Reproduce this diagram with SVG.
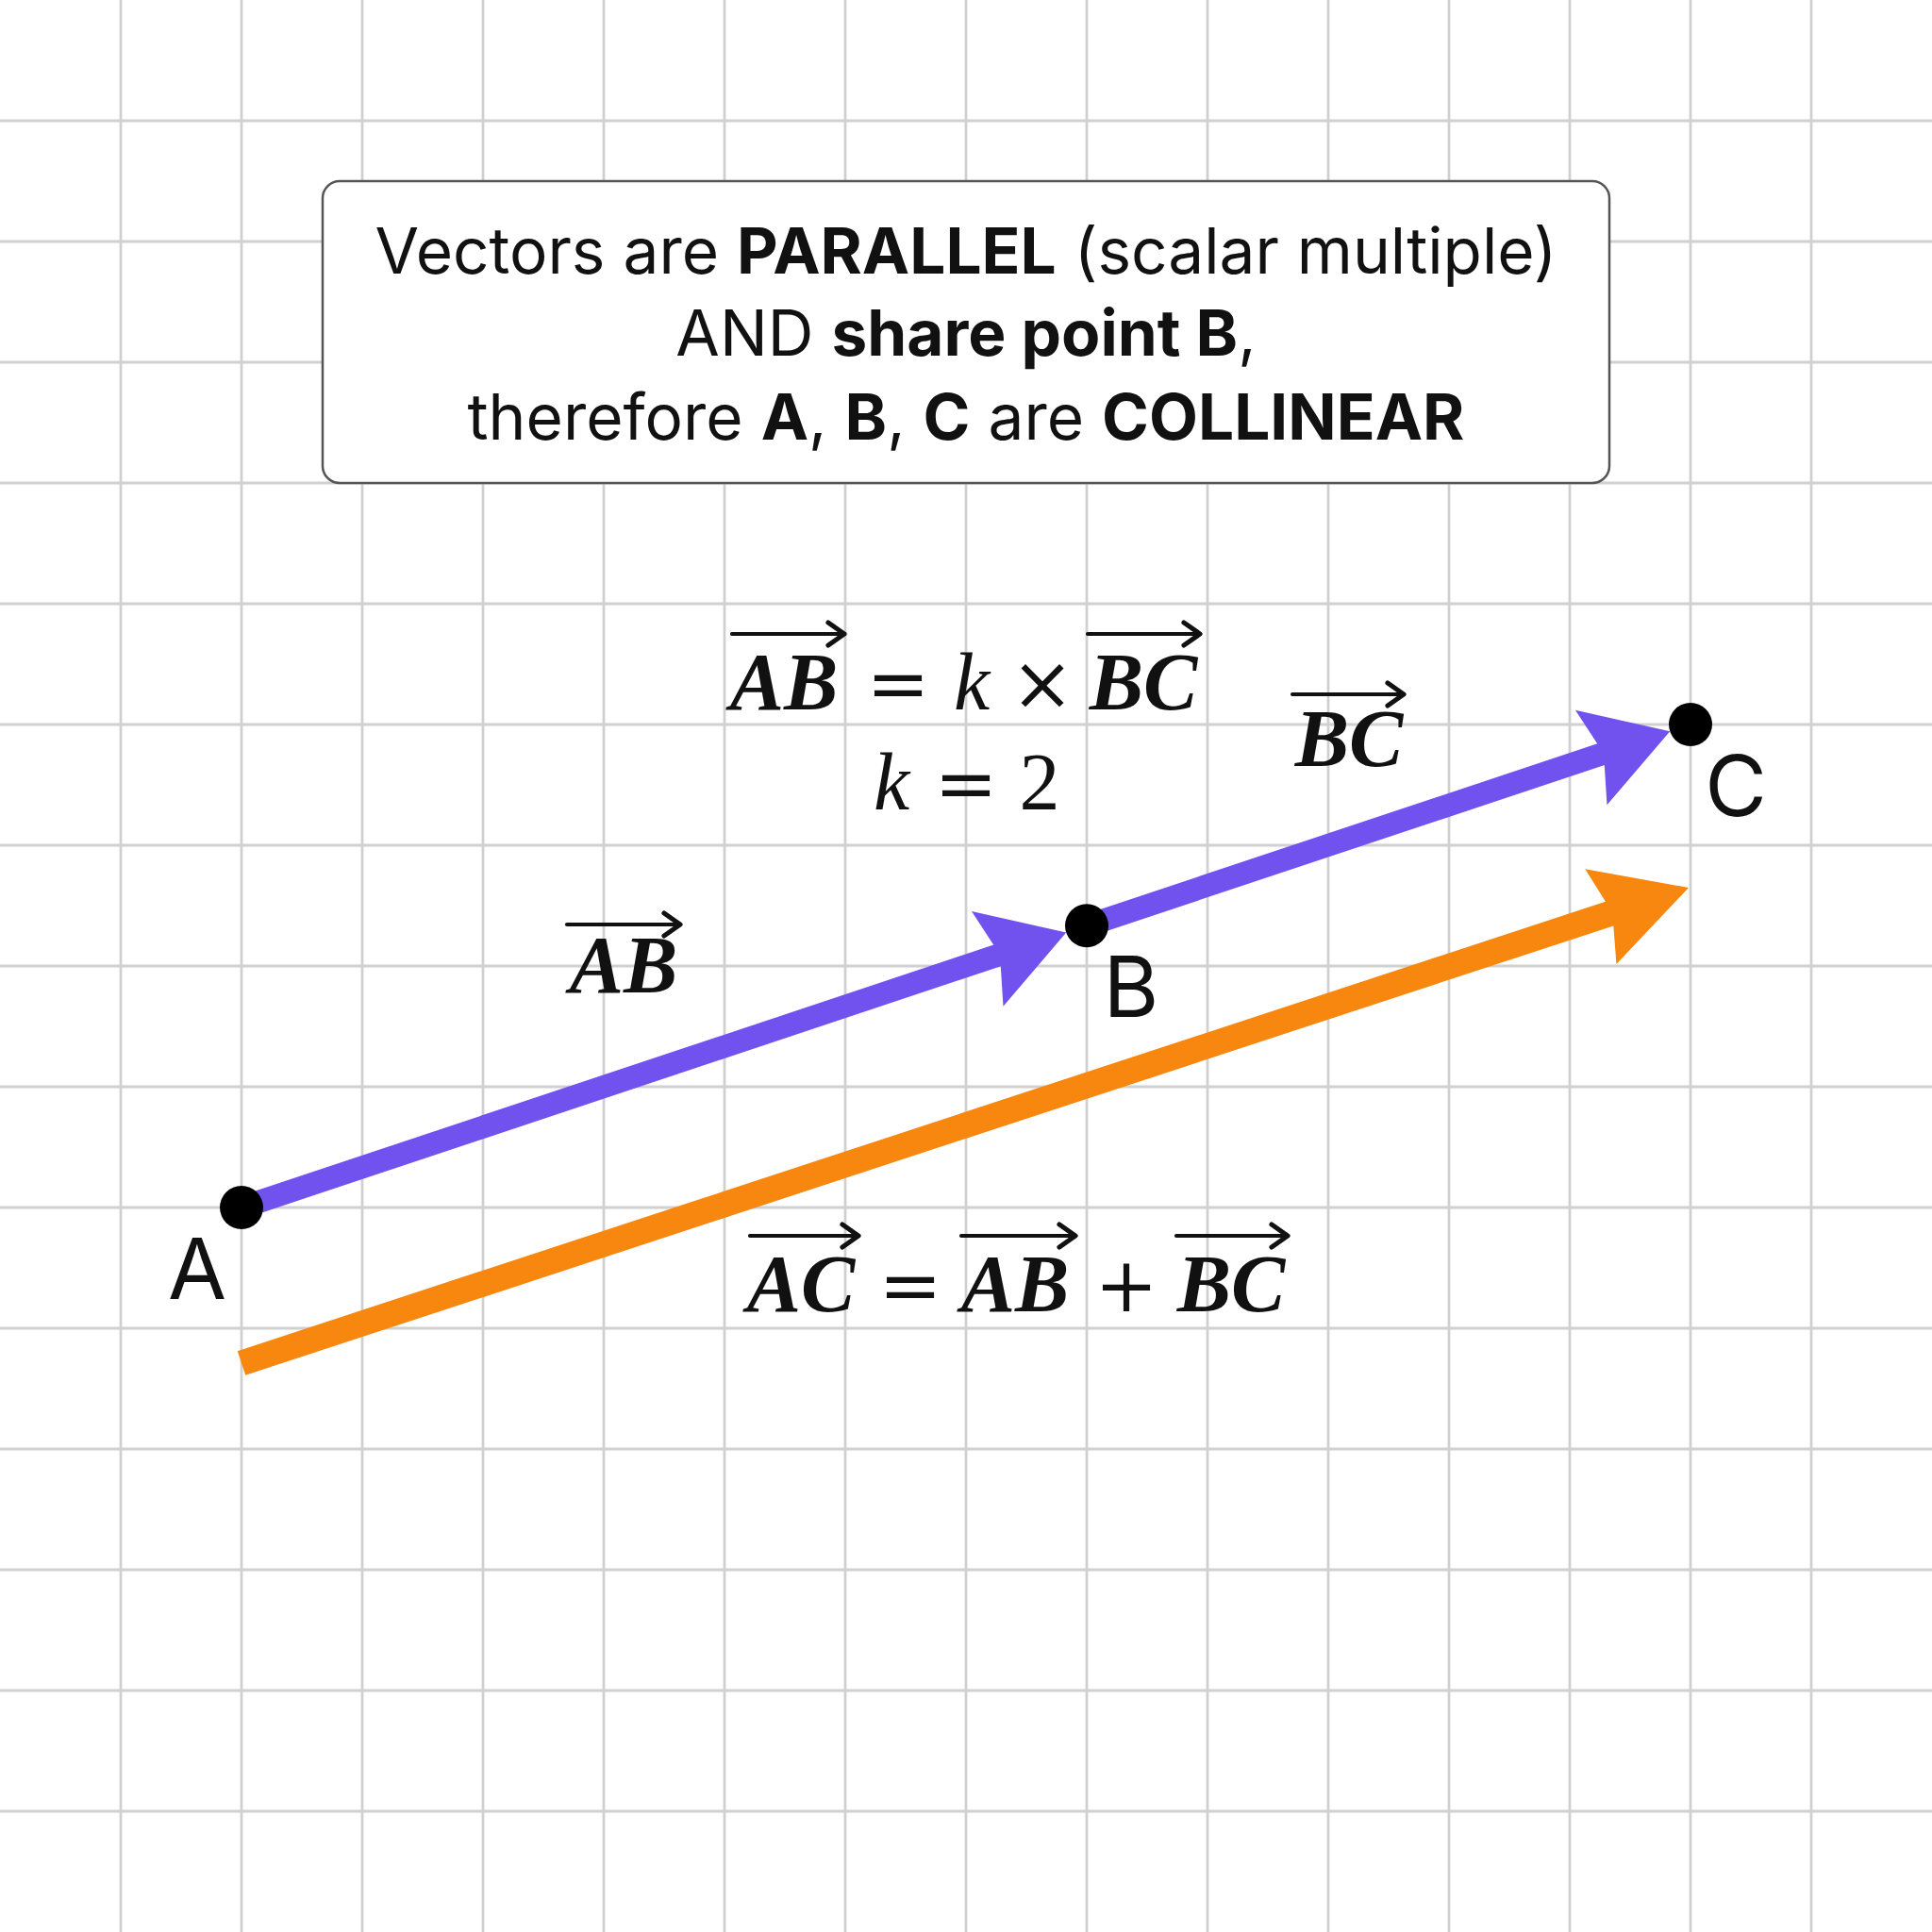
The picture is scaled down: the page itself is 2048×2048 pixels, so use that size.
<svg xmlns="http://www.w3.org/2000/svg" width="2048" height="2048" viewBox="0 0 2048 2048">
<style>
.grid line{stroke:#d0d0d0;stroke-width:2.8}
.hdr{font-family:Inter,"Liberation Sans",sans-serif;font-size:67.5px;fill:#111;text-anchor:middle}
.hdr .b{font-weight:700}
.pt{font-family:Inter,"Liberation Sans",sans-serif;font-size:90px;fill:#111;text-anchor:middle}
.vec{font-family:"Liberation Serif",serif;font-weight:700;font-style:italic;font-size:86px;fill:#111;text-anchor:middle}
.var{font-family:"Liberation Serif",serif;font-style:italic;font-size:86px;fill:#111;text-anchor:middle}
.op{font-family:"DejaVu Serif","Liberation Serif",serif;font-size:80px;fill:#111;text-anchor:middle}
.num{font-family:"Liberation Serif",serif;font-size:86px;fill:#111;text-anchor:middle}
.ov{fill:none;stroke:#111;stroke-width:4.2;stroke-linecap:round;stroke-linejoin:round}
.ovh{fill:none;stroke:#111;stroke-width:5.2;stroke-linecap:round;stroke-linejoin:round}
.purple{stroke:#7152ee;stroke-width:24;fill:none}
.orange{stroke:#f7870f;stroke-width:27;fill:none}
.dot{fill:#000}
</style>
<defs>
<marker id="hp" markerUnits="userSpaceOnUse" orient="auto" refX="0" refY="0" markerWidth="200" markerHeight="200" viewBox="-100 -100 200 200" overflow="visible">
<path d="M70,0 L-18,-53 L-4,0 L-18,53 Z" fill="#7152ee"/>
</marker>
<marker id="ho" markerUnits="userSpaceOnUse" orient="auto" refX="0" refY="0" markerWidth="200" markerHeight="200" viewBox="-100 -100 200 200" overflow="visible">
<path d="M82,0 L-16,-53 L-3,0 L-16,53 Z" fill="#f7870f"/>
</marker>
</defs>
<rect width="2048" height="2048" fill="#ffffff"/>
<g class="grid">
<line x1="128" y1="0" x2="128" y2="2048"/><line x1="256" y1="0" x2="256" y2="2048"/><line x1="384" y1="0" x2="384" y2="2048"/><line x1="512" y1="0" x2="512" y2="2048"/><line x1="640" y1="0" x2="640" y2="2048"/><line x1="768" y1="0" x2="768" y2="2048"/><line x1="896" y1="0" x2="896" y2="2048"/><line x1="1024" y1="0" x2="1024" y2="2048"/><line x1="1152" y1="0" x2="1152" y2="2048"/><line x1="1280" y1="0" x2="1280" y2="2048"/><line x1="1408" y1="0" x2="1408" y2="2048"/><line x1="1536" y1="0" x2="1536" y2="2048"/><line x1="1664" y1="0" x2="1664" y2="2048"/><line x1="1792" y1="0" x2="1792" y2="2048"/><line x1="1920" y1="0" x2="1920" y2="2048"/>
<line x1="0" y1="128" x2="2048" y2="128"/><line x1="0" y1="256" x2="2048" y2="256"/><line x1="0" y1="384" x2="2048" y2="384"/><line x1="0" y1="512" x2="2048" y2="512"/><line x1="0" y1="640" x2="2048" y2="640"/><line x1="0" y1="768" x2="2048" y2="768"/><line x1="0" y1="896" x2="2048" y2="896"/><line x1="0" y1="1024" x2="2048" y2="1024"/><line x1="0" y1="1152" x2="2048" y2="1152"/><line x1="0" y1="1280" x2="2048" y2="1280"/><line x1="0" y1="1408" x2="2048" y2="1408"/><line x1="0" y1="1536" x2="2048" y2="1536"/><line x1="0" y1="1664" x2="2048" y2="1664"/><line x1="0" y1="1792" x2="2048" y2="1792"/><line x1="0" y1="1920" x2="2048" y2="1920"/>
</g>
<g id="header">
<rect x="342" y="192" width="1364" height="320" rx="18" fill="#ffffff" stroke="#555" stroke-width="2.5"/>
<text class="hdr" x="1024" y="290">Vectors are <tspan class="b">PARALLEL</tspan> (scalar multiple)</text>
<text class="hdr" x="1024" y="377">AND <tspan class="b">share point B</tspan>,</text>
<text class="hdr" x="1024" y="466">therefore <tspan class="b">A</tspan>, <tspan class="b">B</tspan>, <tspan class="b">C</tspan> are <tspan class="b">COLLINEAR</tspan></text>
</g>
<g id="connectors">
<line id="vec-AB" class="purple" x1="256" y1="1280" x2="1063.8" y2="1010.7" marker-end="url(#hp)"/>
<line id="vec-BC" class="purple" x1="1152" y1="981.3" x2="1703.8" y2="797.4" marker-end="url(#hp)"/>
<line id="vec-AC" class="orange" x1="256" y1="1445" x2="1712.1" y2="966.6" marker-end="url(#ho)"/>
</g>
<g id="point-A">
<circle class="dot" cx="256" cy="1280" r="23"/>
<text class="pt" x="209" y="1377">A</text>
</g>
<g id="point-B">
<circle class="dot" cx="1152" cy="981.3" r="23"/>
<text class="pt" x="1199" y="1078">B</text>
</g>
<g id="point-C">
<circle class="dot" cx="1792" cy="768" r="23"/>
<text class="pt" x="1840" y="865">C</text>
</g>
<g id="label-AB">
<path class="ov" d="M601,980 H719"/><path class="ovh" d="M704,968 L721,980 L704,992"/>
<text class="vec" x="661" y="1052" font-size="84">AB</text>
</g>
<g id="label-BC">
<path class="ov" d="M1370,736 H1486"/><path class="ovh" d="M1471,724 L1488,736 L1471,748"/>
<text class="vec" x="1430" y="812" font-size="84">BC</text>
</g>
<g id="equation-k">
<path class="ov" d="M776,672 H893"/><path class="ovh" d="M878,660 L895,672 L878,684"/>
<text class="vec" x="831" y="752">AB</text>
<text class="op" x="952" y="752">=</text>
<text class="var" x="1030" y="752">k</text>
<text class="op" x="1105" y="752">×</text>
<path class="ov" d="M1153,672 H1270"/><path class="ovh" d="M1255,660 L1272,672 L1255,684"/>
<text class="vec" x="1212" y="752">BC</text>
<text class="var" x="945" y="858">k</text>
<text class="op" x="1024" y="858">=</text>
<text class="num" x="1102" y="858">2</text>
</g>
<g id="equation-sum">
<path class="ov" d="M795,1310 H908"/><path class="ovh" d="M893,1298 L910,1310 L893,1322"/>
<text class="vec" x="849" y="1390">AC</text>
<text class="op" x="965" y="1390">=</text>
<path class="ov" d="M1019,1310 H1138"/><path class="ovh" d="M1123,1298 L1140,1310 L1123,1322"/>
<text class="vec" x="1076" y="1390">AB</text>
<text class="op" x="1194" y="1390">+</text>
<path class="ov" d="M1247,1310 H1363"/><path class="ovh" d="M1348,1298 L1365,1310 L1348,1322"/>
<text class="vec" x="1305" y="1390">BC</text>
</g>
</svg>
